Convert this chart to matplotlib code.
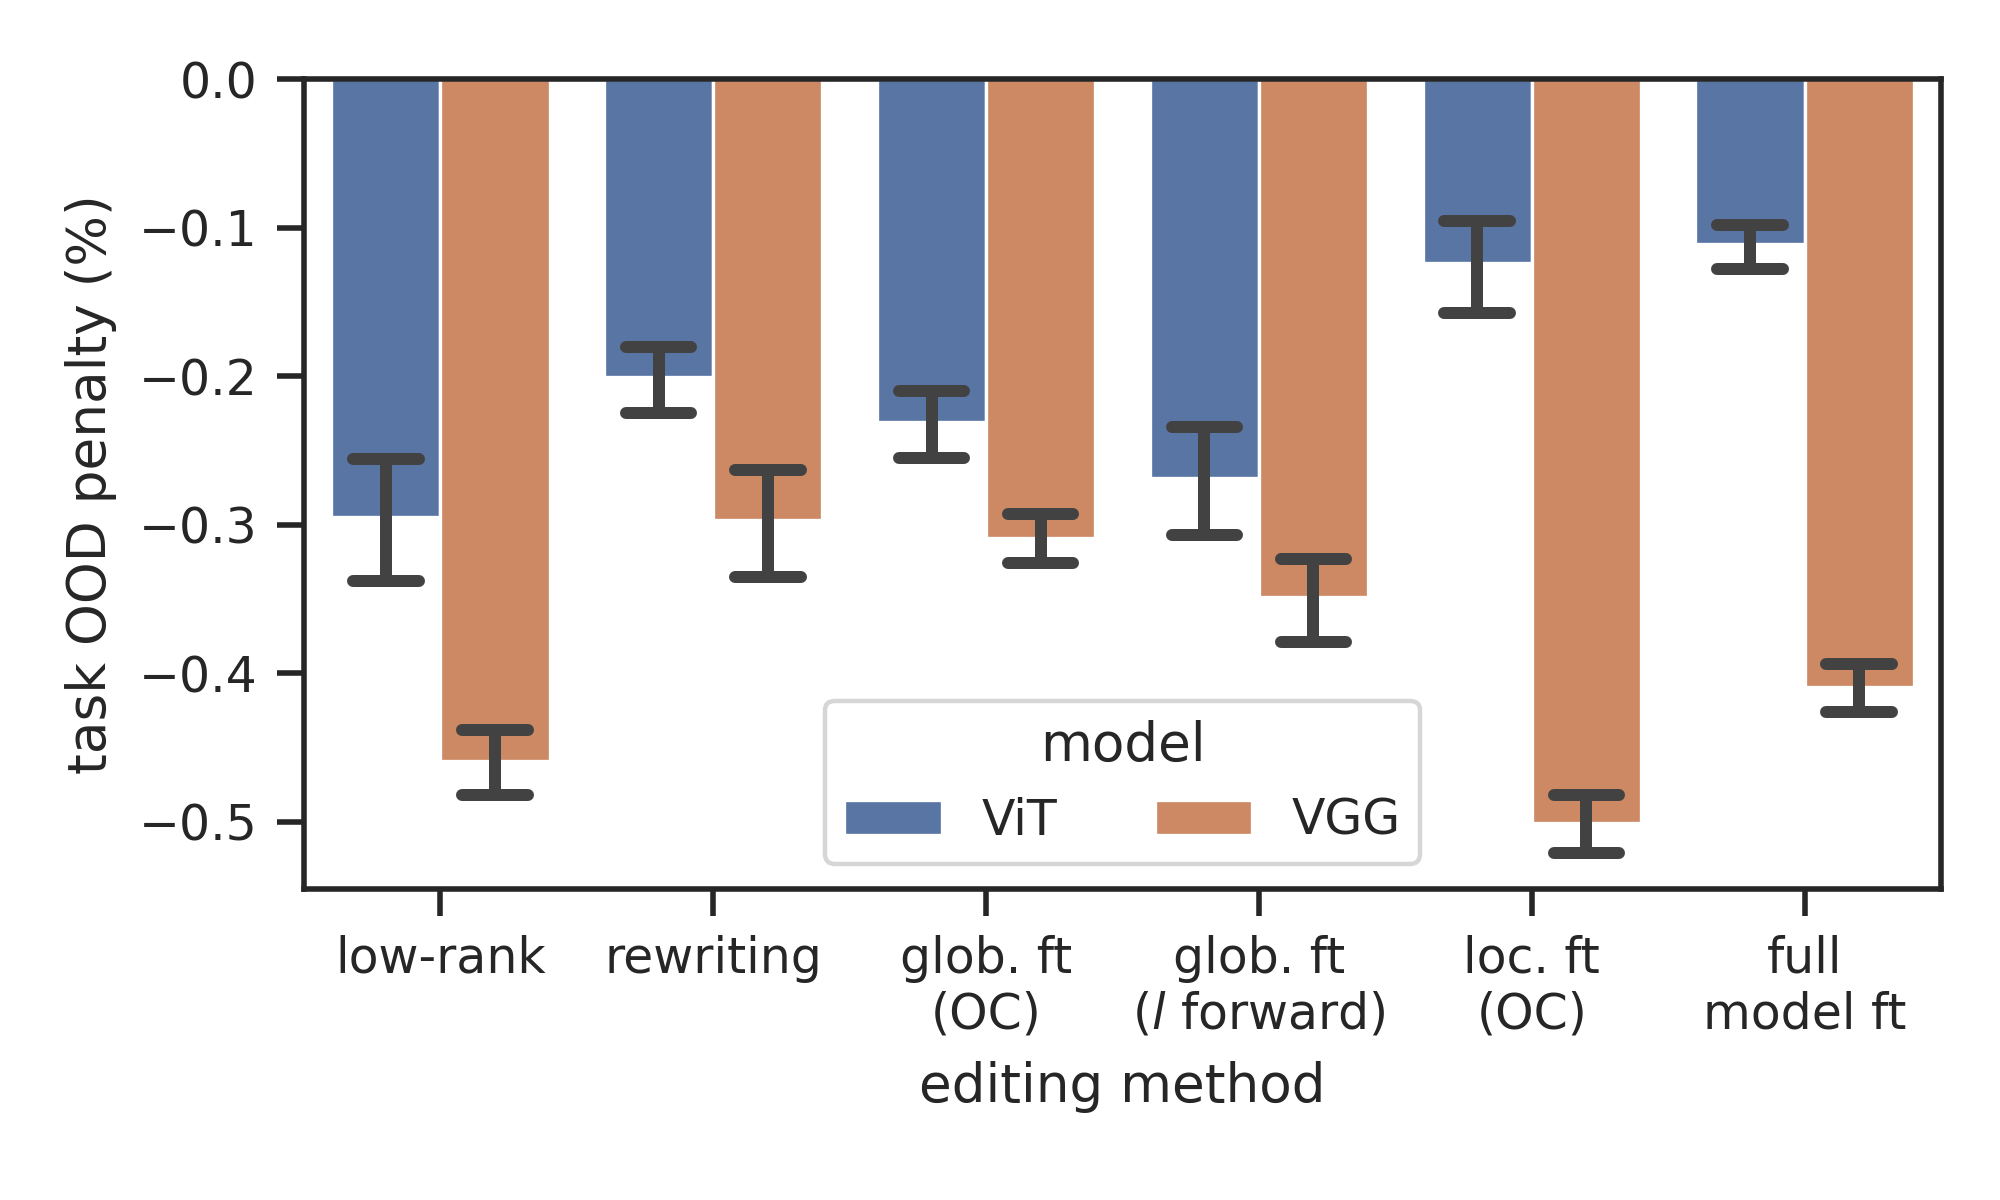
import matplotlib
matplotlib.use("Agg")
import matplotlib.pyplot as plt
import numpy as np
import seaborn as sns

# values
methods = ["low-rank", "rewriting", "glob. ft\n(OC)", "glob. ft\n($l$ forward)",
           "loc. ft\n(OC)", "full\nmodel ft"]
models = ["ViT", "VGG"]

vit_mean = [-0.295, -0.2005, -0.231, -0.2685, -0.124, -0.111]
vit_ci_hi = [-0.256, -0.180, -0.210, -0.234, -0.0955, -0.098]
vit_ci_lo = [-0.338, -0.225, -0.255, -0.307, -0.1575, -0.128]

vgg_mean = [-0.459, -0.297, -0.309, -0.3485, -0.501, -0.409]
vgg_ci_hi = [-0.438, -0.263, -0.293, -0.323, -0.482, -0.394]
vgg_ci_lo = [-0.482, -0.335, -0.326, -0.379, -0.521, -0.426]

sns.set_theme(context="paper", style="ticks")
colors = ["#5975a4", "#cc8963"]

fig = plt.figure(figsize=(5, 3), dpi=400)
ax = fig.add_axes([0.152, 0.2595, 0.8185, 0.6745])

x = np.arange(len(methods))
width = 0.4
series = [(vit_mean, vit_ci_lo, vit_ci_hi), (vgg_mean, vgg_ci_lo, vgg_ci_hi)]
for i, (mean, lo, hi) in enumerate(series):
    xs = x + (i - 0.5) * width
    ax.bar(xs, mean, width, color=colors[i], edgecolor="white", linewidth=0.6,
           label=models[i])
    for xi, l, h in zip(xs, lo, hi):
        ax.plot([xi, xi], [l, h], color=".26", lw=2.16, solid_capstyle="round")
        for y in (l, h):
            ax.plot([xi - 0.12, xi + 0.12], [y, y], color=".26", lw=2.16,
                    solid_capstyle="round")

ax.set_xlim(-0.5, len(methods) - 0.5)
ax.set_ylim(-0.545, 0)
ax.set_yticks([0.0, -0.1, -0.2, -0.3, -0.4, -0.5])
ax.set_xticks(x)
ax.set_xticklabels(methods)
ax.set_xlabel("editing method")
ax.set_ylabel("task OOD penalty (%)")
ax.legend(title="model", ncol=2, loc="lower center")

fig.savefig("out.png", dpi=400)
